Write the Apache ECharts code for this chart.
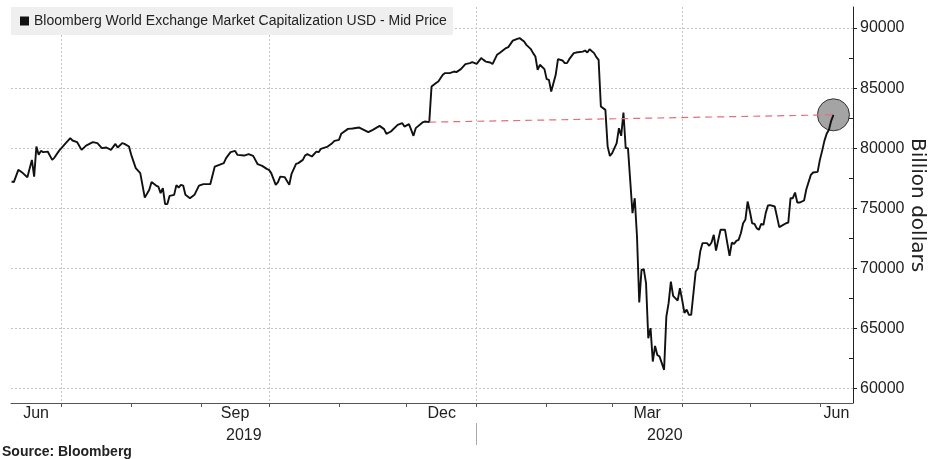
<!DOCTYPE html>
<html>
<head>
<meta charset="utf-8">
<script src="https://cdn.jsdelivr.net/npm/echarts@6/dist/echarts.min.js"></script>
<style>
html,body{margin:0;padding:0;background:#fff;}
#chart{width:929px;height:459px;}
</style>
</head>
<body>
<div id="chart"></div>
<script>
// ---- data ----
const seriesName = 'Bloomberg World Exchange Market Capitalization USD - Mid Price';
const dates = [
'2019-06-09','2019-06-10','2019-06-12','2019-06-14','2019-06-16','2019-06-18','2019-06-19','2019-06-20','2019-06-21','2019-06-22',
'2019-06-23','2019-06-25','2019-06-27','2019-06-28','2019-06-30','2019-07-03','2019-07-05','2019-07-06','2019-07-08','2019-07-10',
'2019-07-12','2019-07-15','2019-07-17','2019-07-19','2019-07-21','2019-07-23','2019-07-25','2019-07-26','2019-07-28','2019-07-29',
'2019-07-31','2019-08-01','2019-08-03','2019-08-05','2019-08-07','2019-08-09','2019-08-10','2019-08-12','2019-08-13','2019-08-14',
'2019-08-15','2019-08-16','2019-08-17','2019-08-18','2019-08-20','2019-08-21','2019-08-22','2019-08-23','2019-08-24','2019-08-25',
'2019-08-26','2019-08-27','2019-08-29','2019-08-31','2019-09-02','2019-09-05','2019-09-07','2019-09-09','2019-09-11','2019-09-12',
'2019-09-14','2019-09-16','2019-09-17','2019-09-20','2019-09-22','2019-09-24','2019-09-26','2019-09-28','2019-09-30','2019-10-01',
'2019-10-02','2019-10-04','2019-10-05','2019-10-06','2019-10-08','2019-10-10','2019-10-11','2019-10-13','2019-10-14','2019-10-16',
'2019-10-17','2019-10-18','2019-10-20','2019-10-22','2019-10-23','2019-10-24','2019-10-27','2019-10-29','2019-10-30','2019-11-01',
'2019-11-02','2019-11-05','2019-11-07','2019-11-10','2019-11-12','2019-11-14','2019-11-16','2019-11-19','2019-11-21','2019-11-22',
'2019-11-24','2019-11-27','2019-11-29','2019-11-30','2019-12-02','2019-12-03','2019-12-04','2019-12-05','2019-12-08','2019-12-09',
'2019-12-11','2019-12-12','2019-12-14','2019-12-15','2019-12-17','2019-12-18','2019-12-20','2019-12-22','2019-12-23','2019-12-25',
'2019-12-27','2019-12-29','2019-12-30','2020-01-01','2020-01-03','2020-01-04','2020-01-05','2020-01-07','2020-01-08','2020-01-10',
'2020-01-11','2020-01-14','2020-01-15','2020-01-17','2020-01-19','2020-01-20','2020-01-22','2020-01-23','2020-01-25','2020-01-26',
'2020-01-27','2020-01-28','2020-01-29','2020-01-31','2020-02-01','2020-02-02','2020-02-03','2020-02-05','2020-02-06','2020-02-08',
'2020-02-09','2020-02-10','2020-02-11','2020-02-13','2020-02-14','2020-02-17','2020-02-18','2020-02-19','2020-02-20','2020-02-22',
'2020-02-23','2020-02-24','2020-02-25','2020-02-27','2020-02-28','2020-02-29','2020-03-01','2020-03-03','2020-03-04','2020-03-05',
'2020-03-06','2020-03-07','2020-03-08','2020-03-10','2020-03-11','2020-03-12','2020-03-13','2020-03-14','2020-03-15','2020-03-16',
'2020-03-17','2020-03-18','2020-03-19','2020-03-20','2020-03-21','2020-03-22','2020-03-24','2020-03-25','2020-03-26','2020-03-27',
'2020-03-28','2020-03-30','2020-03-31','2020-04-01','2020-04-02','2020-04-03','2020-04-04','2020-04-05','2020-04-07','2020-04-08',
'2020-04-09','2020-04-10','2020-04-12','2020-04-13','2020-04-14','2020-04-15','2020-04-16','2020-04-17','2020-04-18','2020-04-20',
'2020-04-21','2020-04-22','2020-04-23','2020-04-24','2020-04-25','2020-04-26','2020-04-27','2020-04-28','2020-04-29','2020-04-30',
'2020-05-01','2020-05-02','2020-05-03','2020-05-04','2020-05-05','2020-05-06','2020-05-07','2020-05-08','2020-05-09','2020-05-10',
'2020-05-12','2020-05-13','2020-05-14','2020-05-15','2020-05-17','2020-05-18','2020-05-19','2020-05-20','2020-05-21','2020-05-22',
'2020-05-23','2020-05-25','2020-05-26','2020-05-28','2020-05-29','2020-05-31','2020-06-01','2020-06-02','2020-06-03','2020-06-04',
'2020-06-05','2020-06-06','2020-06-07'
];
const values = [
77230,77180,78200,77930,77590,79030,77640,80140,79450,79780,
79670,79720,79030,79220,79780,80420,80840,80640,80510,79860,
80220,80510,80420,80010,80060,79860,80360,80060,80420,80360,
80140,79450,78340,77930,75890,76540,77180,76890,76810,76260,
76680,75350,75350,76040,76120,76930,76730,76950,76890,76120,
75980,75840,76120,76890,77010,77010,78470,78620,78760,79170,
79670,79780,79450,79390,79510,79360,78670,78530,78280,78200,
77930,76950,77180,77640,77590,76950,77870,78700,78760,79030,
79390,79510,79310,79720,79670,79950,80140,80420,80610,80700,
81200,81610,81640,81720,81530,81340,81530,81860,81590,81200,
81390,81940,82090,81800,82000,81530,81030,81670,82140,82220,
82170,85130,85420,85550,86110,86250,86250,86380,86330,86580,
87000,87080,87160,87020,87500,87350,87210,87130,87000,87770,
87910,88330,88410,88950,89100,89160,88880,88600,88240,87910,
87630,86520,86940,86580,85750,85690,84720,86110,87410,87300,
87080,87080,87410,87910,87960,88040,88130,87960,88240,87910,
87580,87350,83470,83190,80140,79360,79590,80420,81670,81030,
82970,80010,80010,74600,75840,72650,67160,69880,69940,68770,
64190,65030,62250,63550,62800,62660,61560,65990,67110,68900,
67710,67320,68350,67380,66300,66570,66130,66130,69740,70020,
71400,72100,72100,71880,72150,72790,71480,72370,73210,73210,
72100,71040,72150,72040,72290,72370,72930,73760,74040,75560,
74730,73760,73710,73350,73210,73710,73620,74600,75230,75260,
75150,74310,73430,73540,73760,73810,75840,75840,76310,75480,
75480,75650,76590,77780,77980,78030,79030,79780,80610,81200,
81530,82280,82780
];
const refStartDate = '2019-12-11';           // start of the red dashed reference line
const yTickValues = [60000,65000,70000,75000,80000,85000,90000];
const yMinorValues = [62500,67500,72500,77500,82500,87500];
const monthTickLabels = ['Jun','Sep','Dec','Mar','Jun'];
const monthTickMonths = ['2019-06','2019-09','2019-12','2020-03','2020-06'];
const yearLabels = ['2019','2020'];
const sourceText = 'Source: Bloomberg';
const yAxisName = 'Billion dollars';

// ---- helpers ----
const ts = s => { const p = s.split('-').map(Number); return Date.UTC(p[0], p[1]-1, p[2] || 1); };
const DAY = 864e5;
const xMin = Date.UTC(2019,5,8,18);
const xMax = Date.UTC(2020,5,15,16);
const lineData = dates.map((d,i) => [ts(d), values[i]]);
const lastIdx = dates.length - 1;
const refIdx = dates.indexOf(refStartDate);
const refData = [[ts(dates[refIdx]), values[refIdx]], [ts(dates[lastIdx]), values[lastIdx]]];

const monthStarts = [];
for (let m = 6; m <= 17; m++) monthStarts.push(Date.UTC(2019, m, 1));
const quarterStarts = [Date.UTC(2019,6,1), Date.UTC(2019,9,1), Date.UTC(2020,0,1), Date.UTC(2020,3,1)];
const monthLabelPos = monthTickMonths.map(s => {
  const p = s.split('-').map(Number);
  const a = Math.max(Date.UTC(p[0], p[1]-1, 1), xMin);
  const b = Math.min(Date.UTC(p[0], p[1], 1), xMax);
  return Math.round((a + b) / 2);
});
const yearBoundary = Date.UTC(2020,0,1);
const yearLabelPos = [Math.round((xMin + yearBoundary)/2), Math.round((yearBoundary + xMax)/2)];

const FONT = 'Liberation Sans';
const baseX = {type: 'value', min: xMin, max: xMax, position: 'bottom', scale: true};
const chart = echarts.init(document.getElementById('chart'), null, {renderer:'canvas'});
chart.setOption({
  animation: false,
  backgroundColor: '#ffffff',
  textStyle: {fontFamily: FONT},
  title: {
    text: sourceText, left: 2, top: 445, padding: 0,
    textStyle: {fontSize: 14, fontWeight: 'bold', color: '#222', fontFamily: FONT}
  },
  legend: {
    data: [seriesName], left: 11, top: 7, icon: 'rect', itemWidth: 9, itemHeight: 9, itemGap: 0,
    backgroundColor: '#efefef', padding: [7, 6, 7, 9], borderRadius: 0,
    textStyle: {fontSize: 14, color: '#222', fontFamily: FONT},
    selectedMode: false
  },
  grid: {left: 11, right: 76, top: 7, bottom: 56, containLabel: false, outerBoundsMode: 'none'},
  xAxis: [
    Object.assign({}, baseX, {
      axisLine: {show: true, lineStyle: {color: '#555', width: 1}},
      axisTick: {show: true, length: 4, customValues: monthStarts, lineStyle: {color: '#555'}},
      axisLabel: {
        customValues: monthLabelPos, margin: 3, fontSize: 16, color: '#222', fontFamily: FONT,
        formatter: v => { const i = monthLabelPos.findIndex(p => Math.abs(p - v) < DAY); return i >= 0 ? monthTickLabels[i] : ''; }
      },
      splitLine: {show: false}
    }),
    Object.assign({}, baseX, {
      axisLine: {show: false},
      axisTick: {show: false, customValues: quarterStarts},
      axisLabel: {show: false},
      splitLine: {show: true, lineStyle: {color: '#c4c4c4', type: [2, 2], width: 1}}
    }),
    Object.assign({}, baseX, {
      offset: 20,
      axisLine: {show: false},
      axisTick: {show: true, length: 22, customValues: [yearBoundary], lineStyle: {color: '#aaa'}},
      axisLabel: {
        customValues: yearLabelPos, margin: 5, fontSize: 16, color: '#222', fontFamily: FONT,
        formatter: v => { const i = yearLabelPos.findIndex(p => Math.abs(p - v) < DAY); return i >= 0 ? yearLabels[i] : ''; }
      },
      splitLine: {show: false}
    })
  ],
  yAxis: [
    {
      type: 'value', position: 'right', min: 58800, max: 91750, scale: true,
      name: yAxisName, nameLocation: 'middle', nameRotate: -90, nameGap: 54, nameMoveOverlap: false,
      nameTextStyle: {fontSize: 20, color: '#222', fontFamily: 'DejaVu Sans'},
      axisLine: {show: true, lineStyle: {color: '#222', width: 1}},
      axisTick: {show: true, length: 4, customValues: yTickValues, lineStyle: {color: '#222'}},
      axisLabel: {customValues: yTickValues, margin: 7, fontSize: 16, color: '#222', fontFamily: FONT, formatter: v => String(v)},
      splitLine: {show: true, lineStyle: {color: '#c4c4c4', type: [2, 2], width: 1}}
    },
    {
      type: 'value', position: 'right', min: 58800, max: 91750, scale: true,
      axisLine: {show: false},
      axisTick: {show: true, inside: true, length: 4, customValues: yMinorValues, lineStyle: {color: '#222'}},
      axisLabel: {show: false},
      splitLine: {show: false}
    }
  ],
  series: [
    {
      name: 'circle', type: 'scatter', z: 1, xAxisIndex: 0, yAxisIndex: 0,
      data: [[ts(dates[lastIdx]), values[lastIdx]]], symbolSize: 32,
      itemStyle: {color: '#a4a4a4', borderColor: '#333', borderWidth: 1, opacity: 1},
      silent: true
    },
    {
      name: seriesName, type: 'line', z: 3, xAxisIndex: 0, yAxisIndex: 0,
      data: lineData, showSymbol: false, symbol: 'none',
      lineStyle: {color: '#111', width: 1.9}, itemStyle: {color: '#111'}
    },
    {
      name: 'ref', type: 'line', z: 4, xAxisIndex: 0, yAxisIndex: 0,
      data: refData, showSymbol: false, symbol: 'none',
      lineStyle: {color: '#e0707e', width: 1.2, type: [7, 5]}
    }
  ]
});
</script>
</body>
</html>
